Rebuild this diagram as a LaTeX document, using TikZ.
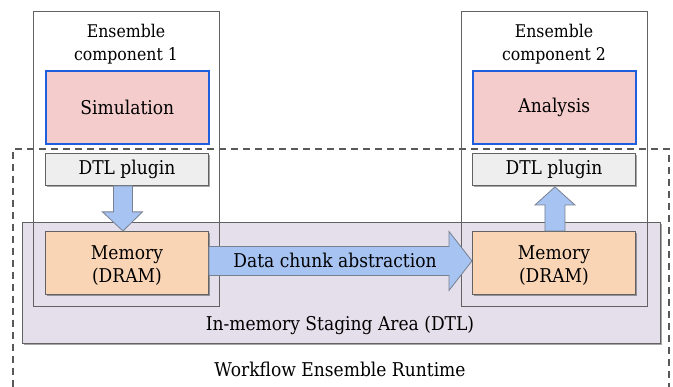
\documentclass[tikz,border=0pt]{standalone}
\usepackage{fontspec}
\setmainfont{DejaVu Serif}[FakeStretch=0.9]
\usetikzlibrary{shadows,calc}

\definecolor{simfill}{HTML}{F4CCCC}
\definecolor{simline}{HTML}{1E5FE0}
\definecolor{plugfill}{HTML}{EEEEEE}
\definecolor{memfill}{HTML}{FAD5B5}
\definecolor{stagefill}{HTML}{E5DFEB}
\definecolor{framegray}{HTML}{626262}
\definecolor{arrowfill}{HTML}{A6C3F2}
\definecolor{arrowline}{HTML}{77818F}

\begin{document}
\begin{tikzpicture}[x=1pt,y=-1pt,
  softshadow/.style={drop shadow={shadow xshift=1.5pt,shadow yshift=-1.8pt,opacity=0.35,fill=black}},
  comp/.style={draw=framegray,line width=0.9pt,minimum width=186pt,minimum height=295pt,anchor=north west,inner sep=0pt},
  compname/.style={align=center,font=\fontsize{17.5}{23}\selectfont},
  task/.style={draw=simline,line width=1.6pt,fill=simfill,minimum width=163pt,minimum height=73pt,anchor=north west,inner sep=0pt,font=\fontsize{19}{23}\selectfont},
  plugin/.style={draw=framegray,line width=0.9pt,fill=plugfill,softshadow,minimum width=163pt,minimum height=32pt,anchor=north west,inner sep=0pt,font=\fontsize{19}{23}\selectfont},
  memory/.style={draw=framegray,line width=0.9pt,fill=memfill,softshadow,minimum width=163pt,minimum height=63pt,anchor=north west,inner sep=0pt,font=\fontsize{19}{23}\selectfont},
  memtext/.style={align=center,font=\fontsize{19}{23}\selectfont},
  fatarrow/.style={draw=arrowline,line width=0.8pt,fill=arrowfill,line join=miter},
  txt/.style={font=\fontsize{19}{23}\selectfont}]

\useasboundingbox (0,0) rectangle (673,387);

% runtime frame, open at the bottom edge
\coordinate (rtA) at (13,387);
\coordinate (rtB) at (13,149);
\coordinate (rtC) at (669,149);
\coordinate (rtD) at (669,387);
\draw[draw=black!65,line width=1.2pt,dash pattern=on 7pt off 5pt] (rtA) -- (rtB) -- (rtC) -- (rtD);
\node[txt,anchor=base] (rtlabel) at (340,377) {Workflow Ensemble Runtime};

% staging area
\node[draw=framegray,line width=0.9pt,fill=stagefill,softshadow,minimum width=638pt,minimum height=121pt,anchor=north west,inner sep=0pt] (stage) at (22,222) {};
\node[txt,anchor=base] (stagelabel) at (340,331) {In-memory Staging Area (DTL)};

% ensemble components
\node[comp] (comp1) at (33,11) {};
\node[comp] (comp2) at (461,11) {};
\node[compname,anchor=north] (name1) at (126,21) {Ensemble\\component 1};
\node[compname,anchor=north] (name2) at (554,21) {Ensemble\\component 2};

\node[task] (sim) at (45,70) {Simulation};
\node[task] (ana) at (472,70) {Analysis};

\node[plugin] (plug1) at (45,153) {DTL plugin};
\node[plugin] (plug2) at (472,153) {DTL plugin};

\node[memory] (mem1) at (45,231) {};
\node[memory] (mem2) at (472,231) {};
\node[memtext] (mem1text) at ($(mem1.center)+(0,2.5)$) {Memory\\(DRAM)};
\node[memtext] (mem2text) at ($(mem2.center)+(0,2.5)$) {Memory\\(DRAM)};

% plugin -> memory (down)
\draw[fatarrow]
  ($(plug1.south)+(-13.5,0)$) -- ($(plug1.south)+(5.5,0)$)
  -- ($(plug1.south)+(5.5,26)$) -- ($(plug1.south)+(15.5,26)$)
  -- ($(mem1.north)+(-4,0)$) -- ($(plug1.south)+(-24.5,26)$)
  -- ($(plug1.south)+(-13.5,26)$) -- cycle;

% memory -> plugin (up)
\draw[fatarrow]
  ($(mem2.north)+(-9,0)$) -- ($(mem2.north)+(-9,-26)$)
  -- ($(mem2.north)+(-19,-26)$) -- ($(plug2.south)+(1,1)$)
  -- ($(mem2.north)+(21,-26)$) -- ($(mem2.north)+(11,-26)$)
  -- ($(mem2.north)+(11,0)$) -- cycle;

% data chunk transfer between the two memories
\draw[fatarrow]
  ($(mem1.east)+(0,-16.5)$) -- ($(mem2.west)+(-23,-16.5)$)
  -- ($(mem2.west)+(-23,-31.5)$) -- ($(mem2.west)+(0,-2)$)
  -- ($(mem2.west)+(-23,27.5)$) -- ($(mem2.west)+(-23,12.5)$)
  -- ($(mem1.east)+(0,12.5)$) -- cycle;
\node[txt,anchor=base] (chunk) at (335,268) {Data chunk abstraction};

\end{tikzpicture}
\end{document}
